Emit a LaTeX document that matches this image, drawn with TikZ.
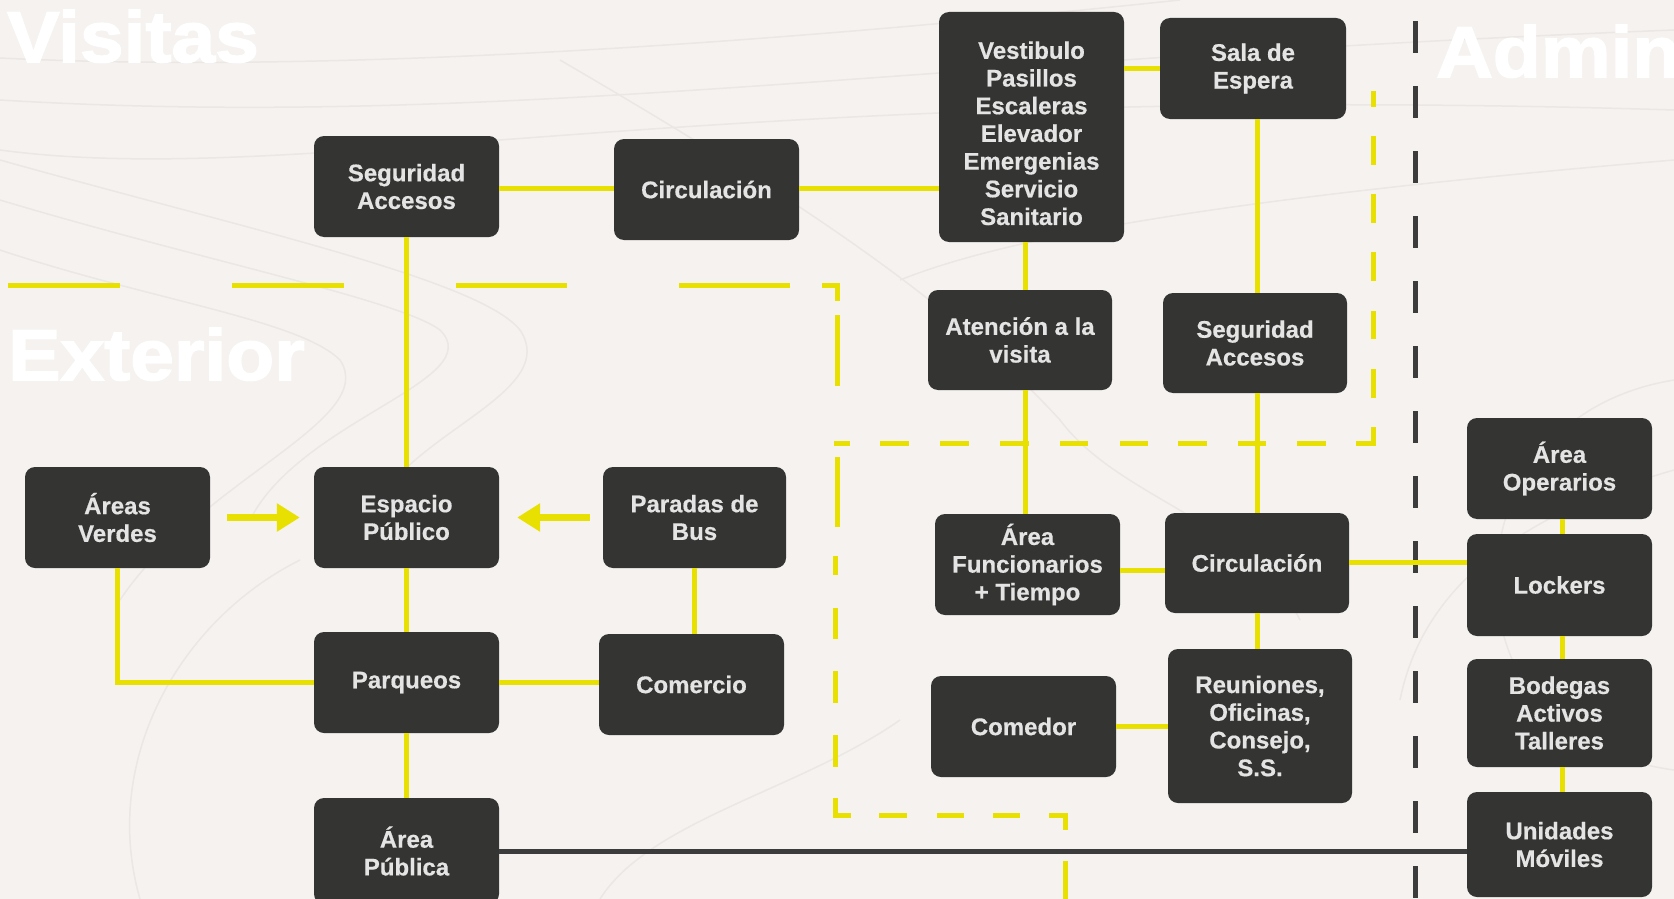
\documentclass[tikz,border=0pt]{standalone}
\usepackage{fontspec}
\setmainfont{Liberation Sans}[BoldFeatures={FakeBold=0.5}]
\newfontfamily\titlefont{Liberation Sans}[FakeStretch=1.09, BoldFeatures={FakeBold=2.2}]
\usetikzlibrary{arrows.meta,calc}
\definecolor{bgc}{HTML}{F5F2F0}
\definecolor{boxc}{HTML}{343432}
\definecolor{txtc}{HTML}{E4E4E4}
\definecolor{yel}{HTML}{E8E000}
\definecolor{dk}{HTML}{3C3C3C}
\definecolor{contourc}{HTML}{EAE7E5}
\begin{document}
\begin{tikzpicture}[x=1pt,y=-1pt,
  box/.style={rounded corners=10pt, fill=boxc, text=txtc,
    font=\bfseries\fontsize{24}{27.7}\selectfont, align=center,
    inner sep=0pt, minimum width=185pt, minimum height=101pt},
  conn/.style={draw=yel, line width=5pt},
  dkline/.style={draw=dk, line width=5pt},
  ydash/.style={draw=yel, line width=5pt},
  bigarrow/.style={draw=yel, line width=7pt, -{Triangle[width=27pt,length=23pt]}},
  title/.style={text=white, font=\titlefont\bfseries\fontsize{72}{72}\selectfont,
    inner sep=0pt, anchor=base west},
  contour/.style={draw=contourc, line width=1.5pt}
]
\useasboundingbox (0,0) rectangle (1674,899);
\clip (0,0) rectangle (1674,899);
\fill[bgc] (0,0) rectangle (1674,899);

% background contour lines
\draw[contour] (0,58) .. controls (350,75) and (800,40) .. (1180,0);
\draw[contour] (0,100) .. controls (500,130) and (900,60) .. (1674,30);
\draw[contour] (0,150) .. controls (300,190) and (700,80) .. (1674,110);
\draw[contour] (0,160) .. controls (250,230) and (480,280) .. (520,330)
  .. controls (560,390) and (420,430) .. (380,500);
\draw[contour] (0,200) .. controls (200,260) and (400,300) .. (440,330)
  .. controls (490,380) and (300,420) .. (250,520);
\draw[contour] (0,250) .. controls (150,300) and (300,320) .. (340,360)
  .. controls (380,420) and (200,480) .. (120,600);
\draw[contour] (560,60) .. controls (800,200) and (950,300) .. (1060,420)
  .. controls (1120,500) and (1250,520) .. (1300,620);
\draw[contour] (1674,380) .. controls (1550,400) and (1480,500) .. (1500,620)
  .. controls (1520,720) and (1600,760) .. (1674,770);
\draw[contour] (140,899) .. controls (100,760) and (180,620) .. (300,560);
\draw[contour] (600,899) .. controls (650,820) and (800,790) .. (900,720);
\draw[contour] (1674,470) .. controls (1500,520) and (1420,600) .. (1400,700);
\draw[contour] (900,280) .. controls (1000,240) and (1200,200) .. (1674,160);

% titles
\node[title] (tv) at (7,62) {Visitas};
\node[title] (te) at (8,380) {Exterior};
\node[title] (ta) at (1436,77) {Admin};

% dashed zone boundaries (yellow)
\foreach \a/\b in {8/120, 232/344, 456/567, 679/790}
  \draw[ydash] (\a,285) -- (\b,285);
\draw[ydash] (822,285) -- (837,285) -- (837,301);
\foreach \a/\b in {315/386, 457/527}
  \draw[ydash] (837,\a) -- (837,\b);
\foreach \a/\b in {556/575, 608/639, 671/703, 735/767}
  \draw[ydash] (835,\a) -- (835,\b);
\draw[ydash] (835,798) -- (835,815) -- (851,815);
\foreach \a/\b in {879/907, 937/964, 993/1020}
  \draw[ydash] (\a,815) -- (\b,815);
\draw[ydash] (1049,815) -- (1065,815) -- (1065,830);
\draw[ydash] (1065,861) -- (1065,899);
\foreach \a/\b in {834/850, 880/909, 940/969, 1000/1029, 1060/1088, 1120/1148, 1178/1207, 1238/1266, 1297/1326}
  \draw[ydash] (\a,443) -- (\b,443);
\draw[ydash] (1356,443) -- (1373,443) -- (1373,427);
\foreach \a/\b in {91/107, 136/165, 194/223, 252/281, 311/339, 369/398}
  \draw[ydash] (1373,\a) -- (1373,\b);

% dashed boundary (dark)
\draw[draw=dk, line width=5pt, dash pattern=on 32pt off 33pt] (1415,21) -- (1415,899);

% nodes
\node[box] (segA) at (406.5,186.5) {Seguridad\\Accesos};
\node[box] (circA) at (706.5,189.5) {Circulación};
\node[box, minimum height=230pt] (vest) at (1031.5,127) {\rule{0pt}{30pt}Vestibulo\\Pasillos\\Escaleras\\Elevador\\Emergenias\\Servicio\\Sanitario};
\node[box, minimum width=186pt] (sala) at (1253,68.5) {Sala de\\Espera};
\node[box, minimum width=184pt, minimum height=100pt] (aten) at (1020,340) {Atención a la\\visita};
\node[box, minimum width=184pt, minimum height=100pt] (segB) at (1255,343) {Seguridad\\Accesos};
\node[box] (av) at (117.5,517.5) {Áreas\\Verdes};
\node[box] (ep) at (406.5,517.5) {Espacio\\Público};
\node[box, minimum width=183pt] (pb) at (694.5,517.5) {Paradas de\\Bus};
\node[box] (parq) at (406.5,682.5) {Parqueos};
\node[box] (com) at (691.5,684.5) {Comercio};
\node[box, minimum height=106pt] (ap) at (406.5,851) {Área\\Pública};
\node[box] (af) at (1027.5,564.5) {Área\\Funcionarios\\+ Tiempo};
\node[box, minimum width=184pt, minimum height=100pt] (circB) at (1257,563) {Circulación};
\node[box] (comd) at (1023.5,726.5) {Comedor};
\node[box, minimum width=184pt, minimum height=154pt] (reu) at (1260,726) {Reuniones,\\Oficinas,\\Consejo,\\S.S.};
\node[box] (aop) at (1559.5,468.5) {Área\\Operarios};
\node[box, minimum height=102pt] (lock) at (1559.5,585) {Lockers};
\node[box, minimum height=108pt] (bod) at (1559.5,713) {Bodegas\\Activos\\Talleres};
\node[box, minimum height=105pt] (um) at (1559.5,844.5) {Unidades\\Móviles};

% helper coordinates for connector alignment
\coordinate (xa) at (1025,0);
\coordinate (xb) at (1257.5,0);
\coordinate (xr) at (1562,0);
\coordinate (ya) at (0,188);
\coordinate (yc) at (0,570);
\coordinate (yl) at (0,562);
\coordinate (yp) at (0,682);
\coordinate (yu) at (0,851);

% connectors
\draw[conn] (segA.east |- ya) -- (circA.west |- ya);
\draw[conn] (circA.east |- ya) -- (vest.west |- ya);
\draw[conn] (vest.east |- sala.west) -- (sala.west);
\draw[conn] (vest.south -| xa) -- (aten.north -| xa);
\draw[conn] (aten.south -| xa) -- (af.north -| xa);
\draw[conn] (sala.south -| xb) -- (segB.north -| xb);
\draw[conn] (segB.south -| circB.north) -- (circB.north);
\draw[conn] (circB.south) -- (reu.north -| circB.south);
\draw[conn] (af.east |- yc) -- (circB.west |- yc);
\draw[conn] (circB.east |- yl) -- (lock.west |- yl);
\draw[conn] (comd.east |- reu.west) -- (reu.west);
\draw[conn] (aop.south -| xr) -- (lock.north -| xr);
\draw[conn] (lock.south -| xr) -- (bod.north -| xr);
\draw[conn] (bod.south -| xr) -- (um.north -| xr);
\draw[conn] (segA.south) -- (ep.north);
\draw[conn] (ep.south) -- (parq.north);
\draw[conn] (parq.south) -- (ap.north);
\draw[conn] (pb.south) -- (com.north -| pb.south);
\draw[conn] (parq.east |- yp) -- (com.west |- yp);
\draw[conn] (av.south) |- (parq.west |- yp);
\draw[dkline] (ap.east |- yu) -- (um.west |- yu);
\draw[bigarrow, shorten <=17pt, shorten >=14pt] (av.east) -- (ep.west);
\draw[bigarrow, shorten <=13pt, shorten >=18pt] (pb.west) -- (ep.east);
\end{tikzpicture}
\end{document}
